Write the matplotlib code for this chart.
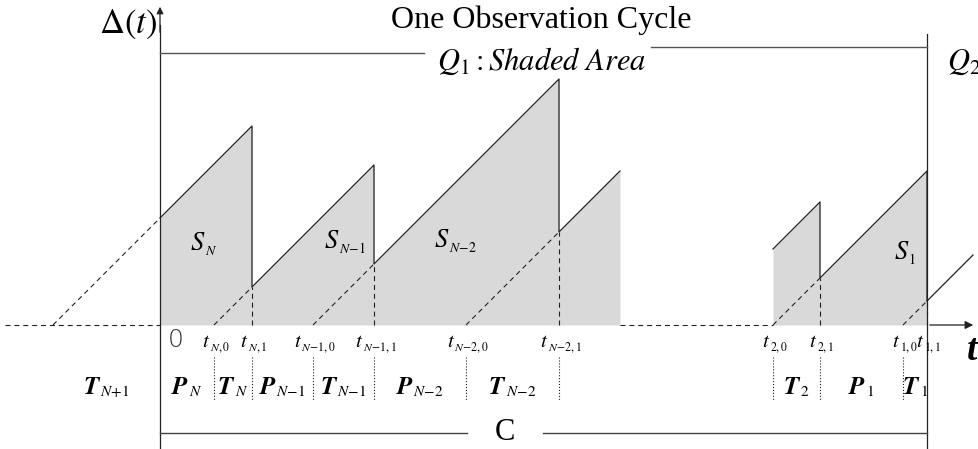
import numpy as np
import matplotlib.pyplot as plt

plt.rcParams['mathtext.fontset'] = 'stix'
plt.rcParams['font.family'] = ['Liberation Serif', 'DejaVu Serif']

# time unit = one pixel of the original figure, origin at the start of the cycle
gen_prev = -107               # generation time of the update received before the cycle
gen_a = [54, 153, 306]        # t_{N,0}, t_{N-1,0}, t_{N-2,0}
recv_a = [92, 214, 399]       # t_{N,1}, t_{N-1,1}, t_{N-2,1}
end_a = 460                   # shaded part breaks off here
start_b = 613                 # shaded part resumes here
age_b0 = 76                   # age where it resumes
gen_b = [613, 743]            # t_{2,0}, t_{1,0}
recv_b = [660, 767]           # t_{2,1}, t_{1,1}
t_end = 767                   # end of the observation cycle
t_tail = 813

tick_times = [54, 92, 153, 214, 306, 399, 613, 660, 743, 767]
tick_subs = ['N,0', 'N,1', 'N-1,0', 'N-1,1', 'N-2,0', 'N-2,1',
             '2,0', '2,1', '1,0', '1,1']
bounds_a = [gen_prev, 0, 54, 92, 153, 214, 306, 399]
labels_a = [('T', 'N+1'), ('P', 'N'), ('T', 'N'), ('P', 'N-1'),
            ('T', 'N-1'), ('P', 'N-2'), ('T', 'N-2')]
bounds_b = [613, 660, 743, 767]
labels_b = [('T', '2'), ('P', '1'), ('T', '1')]
area_subs = ['N', 'N-1', 'N-2', '1']
area_x = [44, 185, 296, 745]
area_y = [75, 77, 78, 66]

fill_c = '#d9d9d9'
lc = '#222222'
dash = (0, (4.5, 3.5))


def sawtooth(t0, t1, prev, gens, recvs):
    xs, ys = [t0], [t0 - prev]
    for g, r in zip(gens, recvs):
        if r > t1:
            break
        xs += [r, r]
        ys += [r - prev, r - g]
        prev = g
    xs.append(t1)
    ys.append(t1 - prev)
    return np.array(xs), np.array(ys)


fig = plt.figure(figsize=(9.79, 4.49), dpi=100)
ax = fig.add_axes([0, 0, 1, 1])
ax.set_xlim(-160, 819)
ax.set_ylim(-124, 325)
ax.axis('off')
rend = fig.canvas.get_renderer()


def sub_text(xc, y, main, sub, size, sub_size, drop):
    # main symbol + smaller subscript, centred on xc (1 data unit = 1 px)
    m = ax.text(0, y, main, fontsize=size, va='baseline')
    s = ax.text(0, y - drop, sub, fontsize=sub_size, va='baseline')
    wm = m.get_window_extent(rend).width
    ws = s.get_window_extent(rend).width
    x0 = xc - (wm + ws) / 2
    m.set_x(x0)
    s.set_x(x0 + wm - 0.5)


def msub(sub):
    return '$' + sub.replace('-', r'\!-\!').replace('+', r'\!+\!') + '$'


xa, ya = sawtooth(0, end_a, gen_prev, gen_a, recv_a)
xb, yb = sawtooth(start_b, t_end, start_b - age_b0, gen_b, recv_b)
for xs, ys in [(xa, ya), (xb, yb)]:
    ax.fill_between(xs, 0, ys, color=fill_c, lw=0)
    ax.plot(xs, ys, color=lc, lw=0.9)
ax.plot([t_end, t_tail], [t_end - gen_b[-1], t_tail - gen_b[-1]], color=lc, lw=0.9)

# dashed ramps from generation times and dashed drops
ax.plot([gen_prev, 0], [0, -gen_prev], color=lc, lw=0.8, ls=dash)
for g, r in zip(gen_a + gen_b, recv_a + recv_b):
    ax.plot([g, r], [0, r - g], color=lc, lw=0.8, ls=dash)
    ax.plot([r, r], [0, r - g], color=lc, lw=0.8, ls=dash)

# axes
ax.plot([-155, 0], [0, 0], color=lc, lw=0.8, ls=dash)
ax.plot([end_a, start_b], [0, 0], color=lc, lw=0.8, ls=dash)
ax.annotate('', xy=(816, 0), xytext=(t_end, 0),
            arrowprops=dict(arrowstyle='-|>', color=lc, lw=0.9, mutation_scale=12))
ax.plot([0, 0], [-124, 300], color=lc, lw=0.9)
ax.annotate('', xy=(0, 321), xytext=(0, 290),
            arrowprops=dict(arrowstyle='-|>', color=lc, lw=0.9, mutation_scale=10))
ax.plot([t_end, t_end], [-124, 291], color=lc, lw=0.9)

ax.text(-32, 301, r'$\Delta(t)$', fontsize=25, ha='center', va='center')
ax.text(812, -26, 't', fontsize=27, style='italic', weight='bold',
        ha='center', va='center')

# top annotations
ax.text(381, 305, 'One Observation Cycle', fontsize=23, ha='center', va='center')
ax.plot([0, 264], [272, 272], color='#555555', lw=1)
ax.plot([491, t_end], [278, 278], color='#555555', lw=1)
ax.text(382, 264, r'$Q_1: \mathit{Shaded\ Area}$', fontsize=22, ha='center', va='center')
ax.text(787, 263, r'$Q_2$', fontsize=22, ha='left', va='center')

for sub, x, y in zip(area_subs, area_x, area_y):
    sub_text(x, y, r'$S$', msub(sub), 19, 10, 5)

# tick labels under the axis
ax.text(16, -15, '0', fontsize=18, family='DejaVu Sans', weight='light',
        ha='center', va='center', color='#333333')
for tt, sub in zip(tick_times, tick_subs):
    sub_text(tt + 2, -22, r'$t$', msub(sub), 15, 8.5, 4)

# interval separators and labels
for tt in tick_times[:-1]:
    ax.plot([tt, tt], [-32, -75], color=lc, lw=0.8, ls=':')
for bounds, labels in [(bounds_a, labels_a), (bounds_b, labels_b)]:
    for i, (sym, sub) in enumerate(labels):
        mid = (bounds[i] + bounds[i + 1]) / 2
        sub_text(mid, -69, r'$\boldsymbol{%s}$' % sym, msub(sub), 18, 11, 2)

# cycle length C
ax.plot([0, 307], [-108, -108], color='#444444', lw=1)
ax.plot([383, t_end], [-108, -108], color='#444444', lw=1)
ax.text(345, -108, 'C', fontsize=22, ha='center', va='center')

fig.savefig('out.png', dpi=100)
